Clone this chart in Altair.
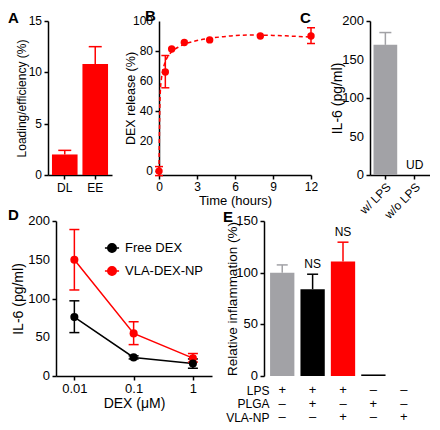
import altair as alt
import pandas as pd

FONT = "Liberation Sans"
RED = "#ff0000"
GRAY = "#a2a2a6"
BLACK = "#000000"
CAP = "M-1,0H1"

# ---------------- data ----------------
# A
a_cats = ["DL", "EE"]
a_vals = [2.0, 10.8]
a_hi = [2.4, 12.5]
a_ticks = [0, 5, 10, 15]

# B
b_time = [0, 0.5, 1, 2, 4, 8, 12]
b_vals = [0.0, 66.0, 81.3, 85.7, 87.4, 90.0, 90.0]
b_err_time = [0, 0.5, 12]
b_err_lo = [-3.0, 55.5, 85.0]
b_err_hi = [3.0, 77.0, 95.5]
b_fit_time = [0, 0.05, 0.1, 0.2, 0.3, 0.5, 0.75, 1, 1.5, 2, 3, 4, 5, 6, 7, 8, 9, 10, 11, 12]
b_fit_vals = [0, 35, 52, 62, 67, 73, 77, 79.5, 82.5, 84.5, 87, 88.5, 89.5, 90.3, 90.6, 90.6, 90.4, 90.1, 89.7, 89.3]
b_xticks = [0, 3, 6, 9, 12]
b_ticks = [0, 20, 40, 60, 80, 100]

# C
c_cats = ["w/ LPS", "w/o LPS"]
c_vals = [169, 0]
c_hi = [185, None]
c_notes = ["", "UD"]
c_ticks = [0, 50, 100, 150, 200]

# D
d_dose = [0.01, 0.1, 1]
d_series = ["Free DEX", "VLA-DEX-NP"]
d_free = [76, 24, 16]
d_free_lo = [56, 22, 10]
d_free_hi = [97, 26, 22]
d_vla = [150, 55, 23]
d_vla_lo = [111, 40.5, 18]
d_vla_hi = [189, 70, 29]
d_ticks = [0, 50, 100, 150, 200]

# E
e_ids = ["g1", "g2", "g3", "g4", "g5"]
e_vals = [100, 84, 110.7, 1.5, 0]
e_hi = [107.5, 98.5, 129.5, None, None]
e_colors = [GRAY, BLACK, RED, BLACK, BLACK]
e_notes = ["", "NS", "NS", "", ""]
e_ticks = [0, 50, 100, 150]
e_rows = ["LPS", "PLGA", "VLA-NP"]
e_lps = ["+", "+", "+", "–", "–"]
e_plga = ["–", "+", "–", "+", "–"]
e_vla = ["–", "–", "+", "–", "+"]


def letter(s, dx, dy):
    return alt.TitleParams(text=s, anchor="start", frame="group", dx=dx, dy=dy, offset=0,
                           fontSize=15, fontWeight="bold", font=FONT, color="black")


def yaxis(values, title, tfs, tpad, **kw):
    # tick labels are drawn by a text layer (see ylabels) so that none is dropped
    return alt.Axis(values=values, title=title, labels=False, titleFontSize=tfs,
                    titlePadding=tpad, **kw)


def ylabels(values, size, x=-6):
    return alt.Chart(pd.DataFrame({"tick": values})).mark_text(
        align="right", baseline="middle", fontSize=size, font=FONT, color="black"
    ).encode(x=alt.value(x), y="tick:Q", text=alt.Text("tick:Q"))


# ---------------- A ----------------
dfA = pd.DataFrame({"cat": a_cats, "val": a_vals, "hi": a_hi})
xA = alt.X("cat:N", sort=a_cats, scale=alt.Scale(paddingInner=0.16, paddingOuter=0.13),
           axis=alt.Axis(title=None, labelAngle=0, labelFontSize=12, labelPadding=3))
yA = alt.Y("val:Q", scale=alt.Scale(domain=[0, 15], nice=False),
           axis=yaxis(a_ticks, "Loading/efficiency (%)", 12, 15))
baseA = alt.Chart(dfA).encode(x=xA)
A = alt.layer(
    baseA.mark_bar(color=RED).encode(y=yA),
    baseA.mark_rule(color=RED, strokeWidth=1.5).encode(y="val:Q", y2="hi:Q"),
    baseA.mark_point(shape=CAP, size=169, color=RED, strokeWidth=1.5, filled=False, opacity=1).encode(y="hi:Q"),
    ylabels(a_ticks, 12),
).properties(width=64, height=154, title=letter("A", -40, 10.5))

# ---------------- B ----------------
dfB = pd.DataFrame({"t": b_time, "v": b_vals})
dfBe = pd.DataFrame({"t": b_err_time, "lo": b_err_lo, "hi": b_err_hi})
dfBf = pd.DataFrame({"t": b_fit_time, "v": b_fit_vals})
xB = alt.X("t:Q", scale=alt.Scale(domain=[0, 12], nice=False, range=[0, 152]),
           axis=alt.Axis(values=b_xticks, title="Time (hours)", labelFontSize=12,
                         titleFontSize=13, titlePadding=2, labelOverlap=False))
yB = alt.Y("v:Q", scale=alt.Scale(domain=[-2.6, 100], nice=False),
           axis=yaxis(b_ticks, "DEX release (%)", 12.5, 17))
B = alt.layer(
    alt.Chart(dfBf).mark_line(color=RED, strokeDash=[4, 3], strokeWidth=1.5, interpolate="monotone").encode(x=xB, y=yB),
    alt.Chart(dfBe).mark_rule(color=RED, strokeWidth=1.5).encode(x="t:Q", y="lo:Q", y2="hi:Q"),
    alt.Chart(dfBe).transform_fold(["lo", "hi"], as_=["k", "cv"]).mark_point(
        shape=CAP, size=64, color=RED, strokeWidth=1.5, filled=False, opacity=1).encode(x="t:Q", y="cv:Q"),
    alt.Chart(dfB).mark_circle(color=RED, size=55, opacity=1).encode(x="t:Q", y="v:Q"),
    ylabels(b_ticks, 12),
).properties(width=164, height=154, title=letter("B", -14, 8.5))

# ---------------- C ----------------
dfC = pd.DataFrame({"cat": c_cats, "val": c_vals, "hi": c_hi, "note": c_notes})
xC = alt.X("cat:N", sort=c_cats, scale=alt.Scale(paddingInner=0.19, paddingOuter=0.12),
           axis=alt.Axis(title=None, labelAngle=-45, labelFontSize=12, labelOverlap=False))
yC = alt.Y("val:Q", scale=alt.Scale(domain=[0, 200], nice=False),
           axis=yaxis(c_ticks, "IL-6 (pg/ml)", 14, 21))
baseC = alt.Chart(dfC).encode(x=xC)
C = alt.layer(
    baseC.mark_bar(color=GRAY).encode(y=yC),
    baseC.transform_filter("isValid(datum.hi)").mark_rule(color=GRAY, strokeWidth=1.5).encode(y="val:Q", y2="hi:Q"),
    baseC.transform_filter("isValid(datum.hi)").mark_point(
        shape=CAP, size=144, color=GRAY, strokeWidth=1.5, filled=False, opacity=1).encode(y="hi:Q"),
    baseC.mark_text(fontSize=12, font=FONT, baseline="bottom", dy=-3).encode(y="val:Q", text="note:N"),
    ylabels(c_ticks, 13),
).properties(width=60, height=154, title=letter("C", -70, 10.5))

# ---------------- D ----------------
rowsD = []
for s, vals, lo, hi in [("VLA-DEX-NP", d_vla, d_vla_lo, d_vla_hi),
                        ("Free DEX", d_free, d_free_lo, d_free_hi)]:
    for d, v, l, h in zip(d_dose, vals, lo, hi):
        rowsD.append({"dose": d, "series": s, "val": v, "lo": l, "hi": h})
dfD = pd.DataFrame(rowsD)
dscale = alt.Scale(domain=d_series, range=[BLACK, RED])
leg = alt.Legend(title=None, orient="none", legendX=56, legendY=19,
                 symbolType="M-1,0H1M-0.6,0A0.6,0.6,0,1,1,0.6,0A0.6,0.6,0,1,1,-0.6,0",
                 symbolSize=200, symbolStrokeWidth=1.5, labelFontSize=13, labelFont=FONT,
                 labelColor="black", rowPadding=7, labelOffset=5)
xD = alt.X("dose:Q", scale=alt.Scale(type="log", domain=[0.0049, 2.1], nice=False, range=[8, 164]),
           axis=alt.Axis(values=d_dose, format="~g", title="DEX (μM)", labelFontSize=13,
                         titleFontSize=14, titlePadding=1, labelOverlap=False))
yD = alt.Y("val:Q", scale=alt.Scale(domain=[0, 200], nice=False),
           axis=yaxis(d_ticks, "IL-6 (pg/ml)", 14, 26, offset=-8))
strokeD = alt.Stroke("series:N", scale=dscale, legend=leg)
D = alt.layer(
    alt.Chart(dfD).mark_line(strokeWidth=1.5).encode(x=xD, y=yD, stroke=strokeD),
    alt.Chart(dfD).mark_rule(strokeWidth=1.5).encode(x="dose:Q", y="lo:Q", y2="hi:Q", stroke=strokeD),
    alt.Chart(dfD).transform_fold(["lo", "hi"], as_=["k", "cv"]).mark_point(
        shape=CAP, size=100, strokeWidth=1.5, filled=False, opacity=1).encode(x="dose:Q", y="cv:Q", stroke=strokeD),
    alt.Chart(dfD).mark_point(filled=True, size=65, opacity=1).encode(
        x="dose:Q", y="val:Q", fill=alt.Fill("series:N", scale=dscale, legend=leg)),
    ylabels(d_ticks, 13, x=2),
).properties(width=169, height=155, title=letter("D", -40, 8))

# ---------------- E ----------------
dfE = pd.DataFrame({"id": e_ids, "val": e_vals, "hi": e_hi, "col": e_colors, "note": e_notes})
eXs = alt.Scale(domain=e_ids, paddingInner=0.2, paddingOuter=0.2)
xE = alt.X("id:N", sort=e_ids, scale=eXs, axis=alt.Axis(title=None, labels=False))
yE = alt.Y("val:Q", scale=alt.Scale(domain=[0, 150], nice=False),
           axis=yaxis(e_ticks, "Relative inflammation (%)", 13.5, 20))
baseE = alt.Chart(dfE).encode(x=xE)
colE = alt.Color("col:N", scale=None)
E_bars = alt.layer(
    baseE.mark_bar().encode(y=yE, color=colE),
    baseE.transform_filter("isValid(datum.hi)").mark_rule(strokeWidth=1.5).encode(y="val:Q", y2="hi:Q", color=colE),
    baseE.transform_filter("isValid(datum.hi)").mark_point(
        shape=CAP, size=121, strokeWidth=1.5, filled=False, opacity=1).encode(y="hi:Q", color=colE),
    baseE.transform_filter("isValid(datum.hi)").mark_text(fontSize=12, font=FONT, baseline="bottom", dy=-3).encode(
        y="hi:Q", text="note:N"),
    ylabels(e_ticks, 13),
)

rowsT = []
for r, signs in zip(e_rows, [e_lps, e_plga, e_vla]):
    for i, s in zip(e_ids, signs):
        rowsT.append({"id": i, "row": r, "sign": s})
dfT = pd.DataFrame(rowsT)
E_table = alt.Chart(dfT).mark_text(fontSize=13, font=FONT, color="black").encode(
    x=alt.X("id:N", sort=e_ids, scale=eXs, axis=None),
    y=alt.Y("row:N", sort=e_rows, scale=alt.Scale(type="point", padding=0, range=[169, 196]),
            axis=alt.Axis(orient="left", title=None, domain=False, ticks=False, labelFontSize=12,
                          labelPadding=-5, labelOverlap=False)),
    text="sign:N",
)

E = alt.layer(E_bars, E_table).resolve_scale(y="independent").properties(
    width=158, height=155, title=letter("E", -41, 10))

top = alt.hconcat(A, B, C, spacing=47, bounds="flush")
bottom = alt.hconcat(D, E, spacing=47, bounds="flush").resolve_scale(
    stroke="independent", fill="independent", color="independent")

chart = alt.vconcat(top, bottom, spacing=-13).resolve_scale(
    stroke="independent", fill="independent", color="independent"
).properties(padding=0).configure_view(
    stroke=None
).configure_axis(
    domainColor="black", domainWidth=1.5, tickColor="black", tickWidth=1.5, tickSize=4,
    labelColor="black", titleColor="black", labelFont=FONT, titleFont=FONT, grid=False,
    titleFontWeight="normal", labelPadding=2, labelFlush=False, labelOverlap=False
).configure_legend(labelFont=FONT)

chart.save("out.html", embed_options={"renderer": "svg", "actions": False})
